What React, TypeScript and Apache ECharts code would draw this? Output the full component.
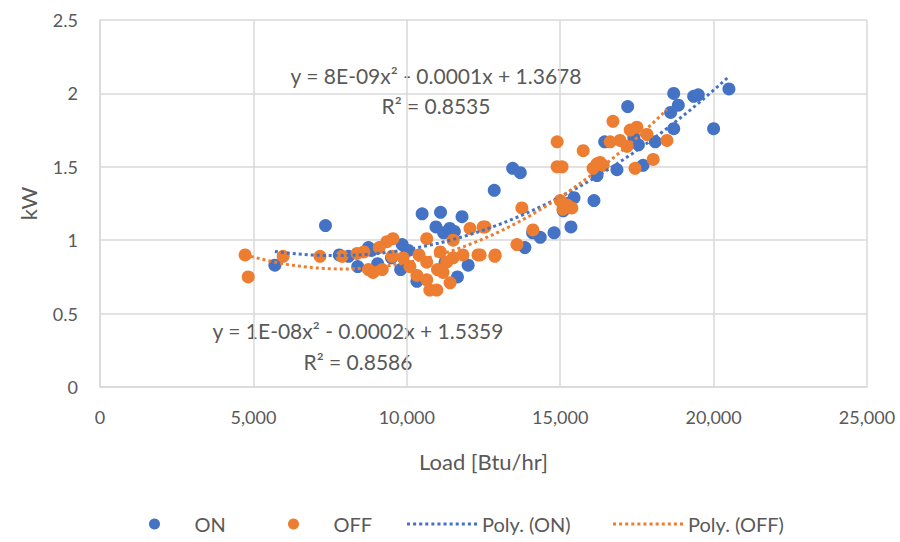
import React, { useEffect, useRef } from "react";
import * as echarts from "echarts";

const onPoints: [number, number][] = [
  [5700, 0.83], [7350, 1.1], [7800, 0.9], [8100, 0.89], [8400, 0.82], [8750, 0.95],
  [8850, 0.93], [9050, 0.84], [9500, 0.88], [9850, 0.97], [9800, 0.8], [10050, 0.93],
  [10330, 0.72], [10500, 1.18], [10950, 1.09], [11100, 1.19], [11200, 1.05], [11400, 1.08],
  [11550, 1.06], [11800, 1.16], [11650, 0.75], [12000, 0.83], [11250, 0.85], [12850, 1.34],
  [13450, 1.49], [13700, 1.46], [13850, 0.95], [14100, 1.05], [14350, 1.02], [14800, 1.05],
  [15350, 1.09], [15450, 1.29], [15250, 1.25], [16100, 1.27], [16200, 1.44], [16450, 1.67],
  [16850, 1.48], [17200, 1.91], [17400, 1.7], [17700, 1.51], [18100, 1.67], [18600, 1.87],
  [18700, 2.0], [18700, 1.76], [18850, 1.92], [19350, 1.98], [19500, 1.99], [20000, 1.76],
  [20500, 2.03], [17550, 1.65], [15100, 1.2],
];

const offPoints: [number, number][] = [
  [4730, 0.9], [4830, 0.75], [5970, 0.89], [7170, 0.89], [7890, 0.89], [8380, 0.91],
  [8600, 0.92], [8750, 0.8], [8900, 0.78], [9200, 0.8], [9350, 0.99], [9550, 1.01],
  [9520, 0.89], [9880, 0.88], [10100, 0.82], [10330, 0.76], [10650, 1.01], [10650, 0.85],
  [10650, 0.73], [10750, 0.66], [10980, 0.66], [11090, 0.92], [11180, 0.78], [11410, 0.71],
  [11510, 0.88], [11510, 1.0], [11830, 0.9], [12060, 1.08], [12320, 0.9], [12550, 1.09],
  [12880, 0.9], [12390, 0.9], [12490, 1.09], [12870, 0.89], [13590, 0.97], [13750, 1.22],
  [14110, 1.07], [14900, 1.5], [15060, 1.5], [14900, 1.67], [15000, 1.27], [15220, 1.24],
  [15090, 1.21], [15380, 1.22], [15750, 1.61], [16200, 1.52], [16400, 1.51], [16300, 1.53],
  [16070, 1.49], [16630, 1.67], [16720, 1.81], [16950, 1.68], [17180, 1.64], [17280, 1.75],
  [17500, 1.77], [17830, 1.72], [17440, 1.49], [18030, 1.55], [18480, 1.68], [11000, 0.8],
  [10400, 0.9], [11300, 0.85], [9100, 0.95],
];

const xTicks = [0, 5000, 10000, 15000, 20000, 25000];
const yTicks = [0, 0.5, 1, 1.5, 2, 2.5];
const legendNames = ["ON", "OFF", "Poly. (ON)", "Poly. (OFF)"];
const eqOn = ["y = 8E-09x² - 0.0001x + 1.3678", "R² = 0.8535"];
const eqOff = ["y = 1E-08x² - 0.0002x + 1.5359", "R² = 0.8586"];

const BLUE = "#4472C4";
const ORANGE = "#ED7D31";
const TEXT = "#595959";
const GRID = "#d9d9d9";
const FONT = "Lato";

// least-squares quadratic regression (like Excel's polynomial trendline)
function quadFit(pts: [number, number][]) {
  const s = 10000;
  const S = [0, 0, 0, 0, 0];
  const T = [0, 0, 0];
  pts.forEach(([x0, y]) => {
    const x = x0 / s;
    for (let k = 0; k < 5; k++) S[k] += Math.pow(x, k);
    for (let k = 0; k < 3; k++) T[k] += y * Math.pow(x, k);
  });
  const A = [
    [S[0], S[1], S[2], T[0]],
    [S[1], S[2], S[3], T[1]],
    [S[2], S[3], S[4], T[2]],
  ];
  for (let i = 0; i < 3; i++) {
    let p = i;
    for (let r = i + 1; r < 3; r++) if (Math.abs(A[r][i]) > Math.abs(A[p][i])) p = r;
    [A[i], A[p]] = [A[p], A[i]];
    for (let r = 0; r < 3; r++) {
      if (r === i) continue;
      const f = A[r][i] / A[i][i];
      for (let c = i; c < 4; c++) A[r][c] -= f * A[i][c];
    }
  }
  const c = [A[0][3] / A[0][0], A[1][3] / A[1][1], A[2][3] / A[2][2]];
  const xs = pts.map((p) => p[0]);
  const lo = Math.min(...xs);
  const hi = Math.max(...xs);
  const out: [number, number][] = [];
  const n = 80;
  for (let i = 0; i <= n; i++) {
    const x0 = lo + ((hi - lo) * i) / n;
    const x = x0 / s;
    out.push([x0, c[0] + c[1] * x + c[2] * x * x]);
  }
  return out;
}

// dotted-line legend icon (row of small squares)
function dottedIcon() {
  let d = "path://";
  for (let i = 0; i < 12; i++) d += `M${i * 6},0h3v3h-3z`;
  return d;
}

export default function App() {
  const ref = useRef<HTMLDivElement>(null);
  useEffect(() => {
    if (!ref.current) return;
    const chart = echarts.init(ref.current, undefined, { renderer: "svg" });
    const dots = [3, 3];
    const icon = dottedIcon();
    const eqStyle = (t: string) => ({
      text: t,
      fill: TEXT,
      font: `21px ${FONT}`,
      textAlign: "center",
      textVerticalAlign: "middle",
    });
    const legendLefts = [149, 288, 407, 613];
    const legendIcons = ["circle", "circle", icon, icon];
    chart.setOption({
      animation: false,
      backgroundColor: "#ffffff",
      textStyle: { fontFamily: FONT },
      grid: { left: 100, right: 33, top: 20, bottom: 155, containLabel: false },
      xAxis: {
        type: "value",
        min: xTicks[0],
        max: xTicks[xTicks.length - 1],
        interval: xTicks[1] - xTicks[0],
        name: "Load [Btu/hr]",
        nameLocation: "middle",
        nameGap: 63,
        nameTextStyle: { color: TEXT, fontSize: 22, fontFamily: FONT },
        axisLine: { show: true, lineStyle: { color: GRID, width: 1.5 } },
        axisTick: { show: false },
        axisLabel: {
          color: TEXT,
          fontSize: 18,
          fontFamily: FONT,
          margin: 21,
          formatter: (v: number) => v.toLocaleString("en-US"),
        },
        splitLine: { show: true, lineStyle: { color: GRID, width: 1.5 } },
      },
      yAxis: {
        type: "value",
        min: yTicks[0],
        max: yTicks[yTicks.length - 1],
        interval: yTicks[1] - yTicks[0],
        name: "kW",
        nameLocation: "middle",
        nameGap: 61,
        nameRotate: 90,
        nameTextStyle: { color: TEXT, fontSize: 22, fontFamily: FONT },
        axisLine: { show: true, lineStyle: { color: GRID, width: 1.5 } },
        axisTick: { show: false },
        axisLabel: { color: TEXT, fontSize: 18, fontFamily: FONT, margin: 22 },
        splitLine: { show: true, lineStyle: { color: GRID, width: 1.5 } },
      },
      legend: legendNames.map((name, i) => ({
        data: [{ name, icon: legendIcons[i] }],
        bottom: 8,
        left: legendLefts[i],
        padding: 0,
        itemWidth: 70,
        itemHeight: 11,
        textStyle: { color: TEXT, fontSize: 20, fontFamily: FONT },
      })),
      series: [
        {
          name: legendNames[0],
          type: "scatter",
          data: onPoints,
          symbolSize: 13,
          itemStyle: { color: BLUE, opacity: 1 },
          z: 2,
        },
        {
          name: legendNames[1],
          type: "scatter",
          data: offPoints,
          symbolSize: 13,
          itemStyle: { color: ORANGE, opacity: 1 },
          z: 3,
        },
        {
          name: legendNames[2],
          type: "line",
          data: quadFit(onPoints),
          showSymbol: false,
          symbol: "none",
          lineStyle: { color: BLUE, width: 3, type: dots },
          itemStyle: { color: BLUE },
          z: 4,
        },
        {
          name: legendNames[3],
          type: "line",
          data: quadFit(offPoints),
          showSymbol: false,
          symbol: "none",
          lineStyle: { color: ORANGE, width: 3, type: dots },
          itemStyle: { color: ORANGE },
          z: 5,
        },
      ],
      graphic: [
        { type: "text", x: 436, y: 75, style: eqStyle(eqOn[0]) },
        { type: "text", x: 436, y: 105, style: eqStyle(eqOn[1]) },
        { type: "text", x: 358, y: 330, style: eqStyle(eqOff[0]) },
        { type: "text", x: 358, y: 361, style: eqStyle(eqOff[1]) },
      ],
    });
    return () => chart.dispose();
  }, []);
  return <div ref={ref} style={{ width: 900, height: 542, position: "absolute", left: 0, top: 0 }} />;
}
